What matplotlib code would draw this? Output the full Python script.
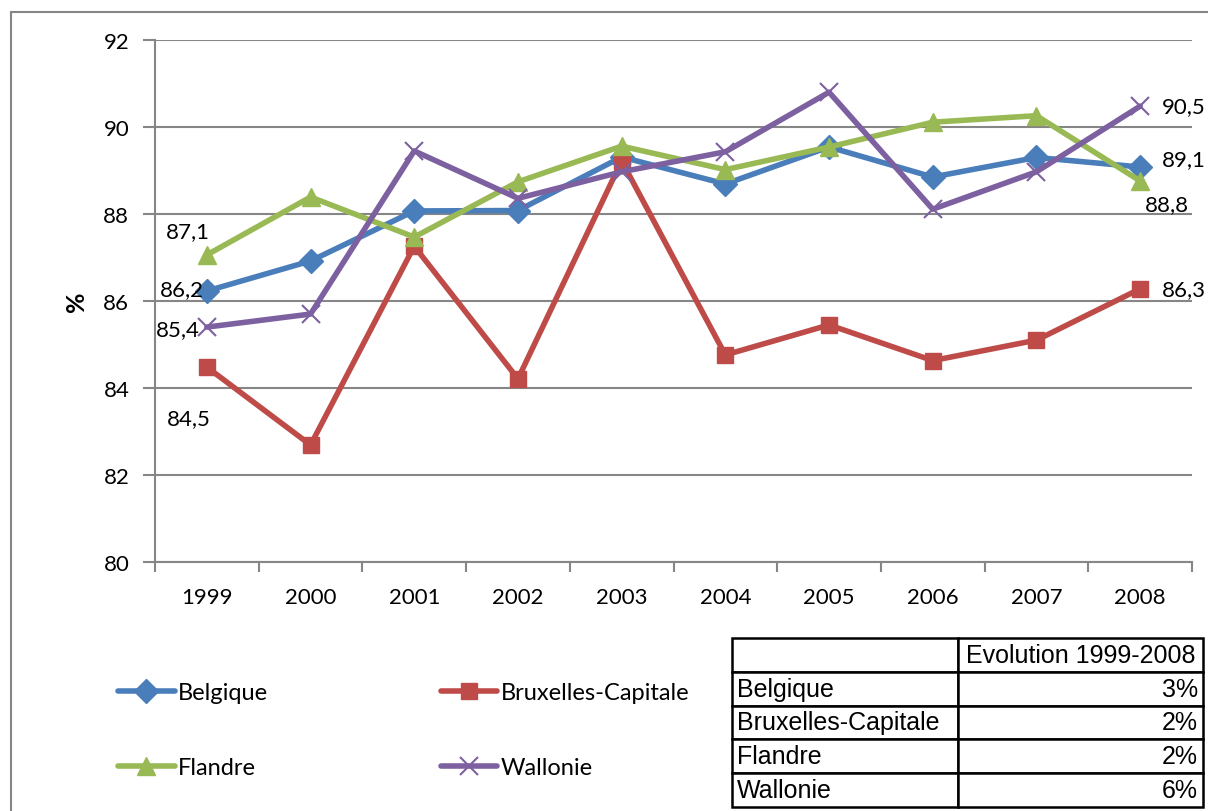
import matplotlib.pyplot as plt
from matplotlib.patches import Rectangle

plt.rcParams['font.family'] = ['Lato', 'DejaVu Sans']

# Taux par région (%)
years = ['1999', '2000', '2001', '2002', '2003', '2004', '2005', '2006', '2007', '2008']
belgique = [86.23, 86.92, 88.07, 88.08, 89.31, 88.69, 89.54, 88.85, 89.30, 89.08]
bruxelles = [84.48, 82.69, 87.26, 84.21, 89.22, 84.76, 85.45, 84.63, 85.10, 86.28]
flandre = [87.06, 88.39, 87.47, 88.74, 89.56, 89.02, 89.54, 90.11, 90.26, 88.76]
wallonie = [85.40, 85.70, 89.45, 88.36, 88.97, 89.43, 90.80, 88.11, 88.97, 90.48]

regions = ['Belgique', 'Bruxelles-Capitale', 'Flandre', 'Wallonie']
evolution = ['3%', '2%', '2%', '6%']

series = [
    (belgique, '#4A7EBB', 'D', 12),
    (bruxelles, '#BE4B48', 's', 12),
    (flandre, '#98B954', '^', 13),
    (wallonie, '#7D60A0', 'x', 13),
]
# position des étiquettes (premier point, dernier point) en points
label_offsets = [
    ((-18, 1.5, 'center'), (16, 6, 'left')),
    ((-13, -37, 'center'), (16, 0, 'left')),
    ((-14, 17, 'center'), (19, -17, 'center')),
    ((-21, -1.5, 'center'), (16, 0, 'left')),
]

fig = plt.figure(figsize=(12.08, 8.12), dpi=100)
W, H = 1208, 812
ax = fig.add_axes([155 / W, 1 - 563 / H, (1192 - 155) / W, (563 - 41) / H])

x = list(range(len(years)))
handles = []
for i, ((vals, col, mk, ms), offs) in enumerate(zip(series, label_offsets)):
    if mk == 'x':
        h, = ax.plot(x, vals, color=col, lw=4, marker=mk, ms=ms, mew=1.5,
                     label=regions[i], zorder=3 + i, solid_capstyle='round')
    else:
        h, = ax.plot(x, vals, color=col, lw=4, marker=mk, ms=ms, mec=col,
                     label=regions[i], zorder=3 + i, solid_capstyle='round')
    handles.append(h)
    for idx, (dx, dy, ha) in zip([0, len(vals) - 1], offs):
        ax.annotate(f'{vals[idx]:.1f}'.replace('.', ','), (x[idx], vals[idx]),
                    xytext=(dx, dy), textcoords='offset points', ha=ha, va='center',
                    fontsize=16, color='black', annotation_clip=False, zorder=10)

grey = '#868686'
ax.set_xlim(-0.5, len(years) - 0.5)
ax.set_ylim(80, 92)
ax.set_yticks(range(80, 93, 2))
ax.set_xticks(x)
ax.set_xticklabels(years)
ax.set_xticks([v - 0.5 for v in range(len(years) + 1)], minor=True)
ax.tick_params(axis='x', which='major', length=0, pad=18, labelsize=16)
ax.tick_params(axis='x', which='minor', length=7, width=1.5, color=grey)
ax.tick_params(axis='y', length=8.5, width=1.5, color=grey, pad=10, labelsize=16)
ax.yaxis.grid(True, color=grey, lw=1.5)
ax.set_axisbelow(True)
for s in ['top', 'right']:
    ax.spines[s].set_visible(False)
for s in ['left', 'bottom']:
    ax.spines[s].set_color(grey)
    ax.spines[s].set_linewidth(1.5)
ax.set_ylabel('%', fontsize=18, fontweight='bold', labelpad=11)

# cadre du graphique
fig.patches.append(Rectangle((11 / W, -0.1), 1.2, 1 - 13 / H + 0.1, transform=fig.transFigure,
                             fill=False, edgecolor=grey, lw=1.5))

fig.legend([handles[0], handles[2], handles[1], handles[3]],
           [regions[0], regions[2], regions[1], regions[3]],
           ncol=2, loc='upper left', bbox_to_anchor=(118 / W, 1 - 683 / H),
           frameon=False, fontsize=17, handlelength=2.4, handletextpad=0.15,
           columnspacing=7.3, labelspacing=2.3, borderaxespad=0, borderpad=0)

# tableau d'évolution
tax = fig.add_axes([732 / W, 1 - 808 / H, (1203 - 732) / W, (808 - 639) / H])
tax.axis('off')
cells = [['', 'Evolution 1999-2008']] + [[r, e] for r, e in zip(regions, evolution)]
tbl = tax.table(cellText=cells, colWidths=[226 / 471, 245 / 471], bbox=[0, 0, 1, 1],
                cellLoc='right')
tbl.auto_set_font_size(False)
tbl.set_fontsize(18)
for (r, c), cell in tbl.get_celld().items():
    cell.set_edgecolor('black')
    cell.set_linewidth(1.8)
    cell.PAD = 0.02
    txt = cell.get_text()
    txt.set_fontfamily('Liberation Sans')
    if c == 0:
        txt.set_horizontalalignment('left')
    if r == 0 and c == 1:
        txt.set_horizontalalignment('center')

fig.savefig('out.png', dpi=100)
